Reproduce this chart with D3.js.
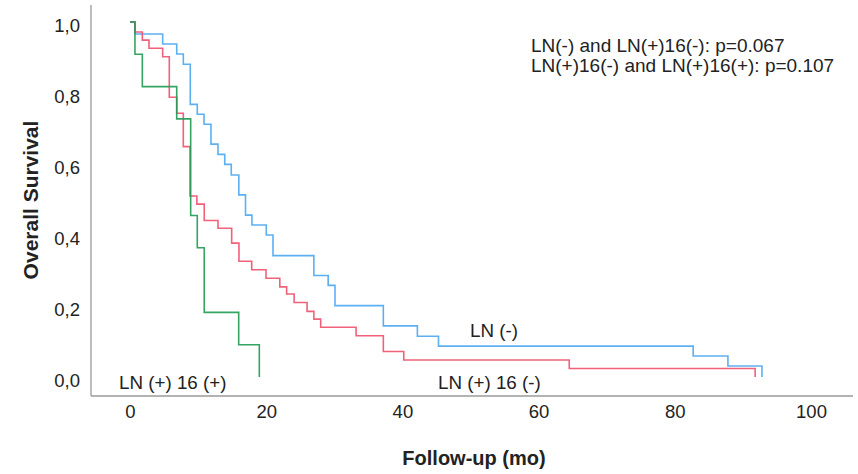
<!DOCTYPE html>
<html>
<head>
<meta charset="utf-8">
<script src="https://cdn.jsdelivr.net/npm/d3@7"></script>
<style>
  body { margin: 0; background: #fff; }
  text { font-family: "Liberation Sans", Arial, sans-serif; }
</style>
</head>
<body>
<div id="km"></div>
<script>
// Kaplan-Meier survival by LN status
const xTicks = [0, 20, 40, 60, 80, 100];
const yTicks = [0, 0.2, 0.4, 0.6, 0.8, 1.0];

// LN (-)
const lnNegTimes = [0, 0.73, 4.8, 6.86, 7.83, 8.85, 9.88, 10.87, 11.89, 12.92, 13.91, 14.87, 15.98, 16.96, 17.91, 20.01, 21.0, 27.0, 29.1, 30.1, 37.2, 42.2, 45.3, 82.7, 87.8, 92.8];
const lnNegSurv  = [1, 0.966, 0.938, 0.910, 0.881, 0.768, 0.740, 0.712, 0.656, 0.627, 0.599, 0.569, 0.513, 0.456, 0.428, 0.400, 0.342, 0.286, 0.258, 0.201, 0.144, 0.115, 0.087, 0.059, 0.031, 0];

// LN (+) 16 (-)
const ln16NegTimes = [0, 0.73, 1.81, 2.79, 4.8, 5.77, 6.86, 7.83, 8.81, 9.82, 10.9, 12.92, 14.93, 16.0, 17.87, 19.97, 22.0, 23.0, 24.1, 26.0, 27.0, 28.0, 33.2, 37.2, 40.2, 64.5, 91.8];
const ln16NegSurv  = [1, 0.972, 0.949, 0.926, 0.902, 0.788, 0.743, 0.649, 0.510, 0.487, 0.441, 0.419, 0.377, 0.326, 0.302, 0.278, 0.254, 0.234, 0.210, 0.185, 0.163, 0.140, 0.116, 0.072, 0.048, 0.024, 0];

// LN (+) 16 (+)
const ln16PosTimes = [0, 0.73, 1.81, 6.86, 8.91, 9.88, 10.9, 15.96, 18.99];
const ln16PosSurv  = [1, 0.909, 0.818, 0.727, 0.455, 0.364, 0.182, 0.091, 0];

const pValueLines = [
    'LN(-) and LN(+)16(-): p=0.067',
    'LN(+)16(-) and LN(+)16(+): p=0.107'
];

(function () {
    const width = 858;
    const height = 474;

    const svg = d3.select('#km')
        .append('svg')
        .attr('width', width)
        .attr('height', height);

    const x = d3.scaleLinear().domain([0, 100]).range([130, 811]);
    const y = d3.scaleLinear().domain([0, 1]).range([377, 22]);

    const axisX = 91;
    const axisY = 396;

    // axis lines
    svg.append('line')
        .attr('x1', axisX).attr('x2', axisX)
        .attr('y1', 5).attr('y2', axisY)
        .attr('stroke', '#9a9a9a').attr('stroke-width', 1.3);
    svg.append('line')
        .attr('x1', axisX).attr('x2', 853)
        .attr('y1', axisY).attr('y2', axisY)
        .attr('stroke', '#9a9a9a').attr('stroke-width', 1.3);

    const gx = svg.append('g')
        .attr('transform', `translate(0,${axisY})`)
        .call(d3.axisBottom(x).tickValues(xTicks).tickSize(0).tickPadding(9));
    gx.select('.domain').remove();
    gx.selectAll('text')
        .attr('font-size', 18.5)
        .attr('fill', '#222')
        .attr('font-family', '"Liberation Sans", Arial, sans-serif');

    const gy = svg.append('g')
        .attr('transform', `translate(${axisX},0)`)
        .call(d3.axisLeft(y).tickValues(yTicks).tickSize(0).tickPadding(11)
            .tickFormat(d => d.toFixed(1).replace('.', ',')));
    gy.select('.domain').remove();
    gy.selectAll('text')
        .attr('font-size', 18.5)
        .attr('fill', '#222')
        .attr('dy', '0.5em')
        .attr('font-family', '"Liberation Sans", Arial, sans-serif');

    // axis titles
    svg.append('text')
        .attr('x', 474).attr('y', 465)
        .attr('text-anchor', 'middle')
        .attr('font-size', 20).attr('font-weight', 'bold').attr('fill', '#222')
        .text('Follow-up (mo)');

    svg.append('text')
        .attr('transform', 'translate(38,200) rotate(-90)')
        .attr('text-anchor', 'middle')
        .attr('font-size', 21).attr('font-weight', 'bold').attr('fill', '#222')
        .text('Overall Survival');

    const line = d3.line()
        .x(d => x(d[0]))
        .y(d => y(d[1]))
        .curve(d3.curveStepAfter);

    const series = [
        { times: lnNegTimes, surv: lnNegSurv, color: '#4aa6ef' },
        { times: ln16NegTimes, surv: ln16NegSurv, color: '#f0506c' },
        { times: ln16PosTimes, surv: ln16PosSurv, color: '#1f9a52' }
    ];

    series.forEach(s => {
        svg.append('path')
            .datum(d3.zip(s.times, s.surv))
            .attr('d', line)
            .attr('fill', 'none')
            .attr('stroke', s.color)
            .attr('stroke-width', 1.6)
            .attr('stroke-opacity', 0.9);
    });

    // curve labels
    const labels = [
        { text: 'LN (-)', x: 470, y: 337 },
        { text: 'LN (+) 16 (-)', x: 438, y: 389 },
        { text: 'LN (+) 16 (+)', x: 119, y: 389 }
    ];
    svg.selectAll('.curve-label')
        .data(labels)
        .enter()
        .append('text')
        .attr('class', 'curve-label')
        .attr('x', d => d.x).attr('y', d => d.y)
        .attr('font-size', 18.8).attr('fill', '#222')
        .text(d => d.text);

    // p-values
    svg.selectAll('.pval')
        .data(pValueLines)
        .enter()
        .append('text')
        .attr('class', 'pval')
        .attr('x', 531)
        .attr('y', (d, i) => 52 + i * 20)
        .attr('font-size', 19).attr('fill', '#222')
        .text(d => d);
})();
</script>
</body>
</html>
